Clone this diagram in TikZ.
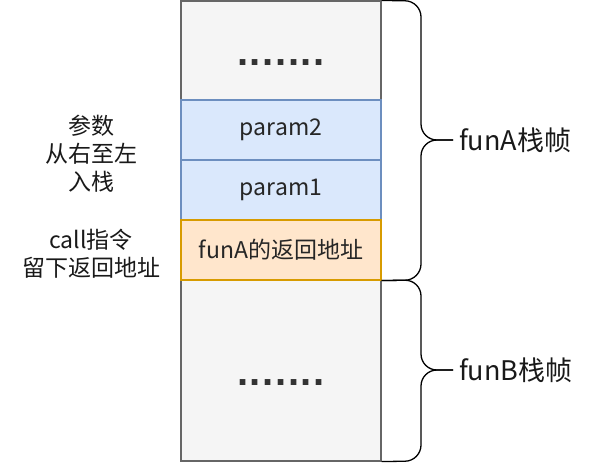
\documentclass[tikz,border=0pt]{standalone}
\usepackage{fontspec}
\setmainfont{Noto Sans CJK SC}
\newfontfamily\dotfont[LetterSpace=4]{Liberation Sans}
\begin{document}
\begin{tikzpicture}[x=1pt,y=-1pt,
  cell/.style={draw, line width=1.1pt, minimum width=200pt, inner sep=0pt, font=\fontsize{23}{23}\selectfont, text=black!85},
  graycell/.style={cell, fill=black!4, draw=black!60},
  bluecell/.style={cell, fill={rgb,255:red,218;green,232;blue,252}, draw={rgb,255:red,108;green,142;blue,191}},
  orangecell/.style={cell, fill={rgb,255:red,255;green,230;blue,204}, draw={rgb,255:red,215;green,155;blue,0}},
  dots/.style={font=\dotfont\bfseries\fontsize{40}{40}\selectfont, text=black!80, inner sep=0pt},
  lbl/.style={font=\fontsize{23}{28}\selectfont, align=center, text=black!90, inner sep=0pt},
  side/.style={font=\fontsize{27}{27}\selectfont, text=black!90, inner sep=0pt, anchor=west},
  brace/.style={draw, line width=1.3pt, rounded corners=16pt},
]
\useasboundingbox (0,0) rectangle (604,464);
\node[graycell, minimum height=99pt] (top) at (281,50.5) {};
\node[graycell, minimum height=181pt] (bot) at (281,370.5) {};
\node[bluecell, minimum height=60pt] (p2) at (281,130) {param2};
\node[bluecell, minimum height=60pt] (p1) at (281,190) {param1};
\node[orangecell, minimum height=60pt] (ret) at (281,250) {funA的返回地址};
\node[dots] (d1) at (281,63) {.......};
\node[dots] (d2) at (281,383) {.......};
\node[lbl] (l1) at (91,153.5) {参数\\从右至左\\入栈};
\node[lbl] (l2) at (91,253.5) {call指令\\留下返回地址};
\coordinate (tipA) at (453,140);
\coordinate (tipB) at (453,370);
\node[side] (fa) at (459,140) {funA栈帧};
\node[side] (fb) at (459,370) {funB栈帧};
\draw[brace] (top.north east) -- (421,1) -- (421,140) -- (tipA);
\draw[brace] (tipA) -- (421,140) -- (421,280) -- (ret.south east);
\draw[brace] (ret.south east) -- (421,280) -- (421,370) -- (tipB);
\draw[brace] (tipB) -- (421,370) -- (421,461) -- (bot.south east);
\end{tikzpicture}
\end{document}
